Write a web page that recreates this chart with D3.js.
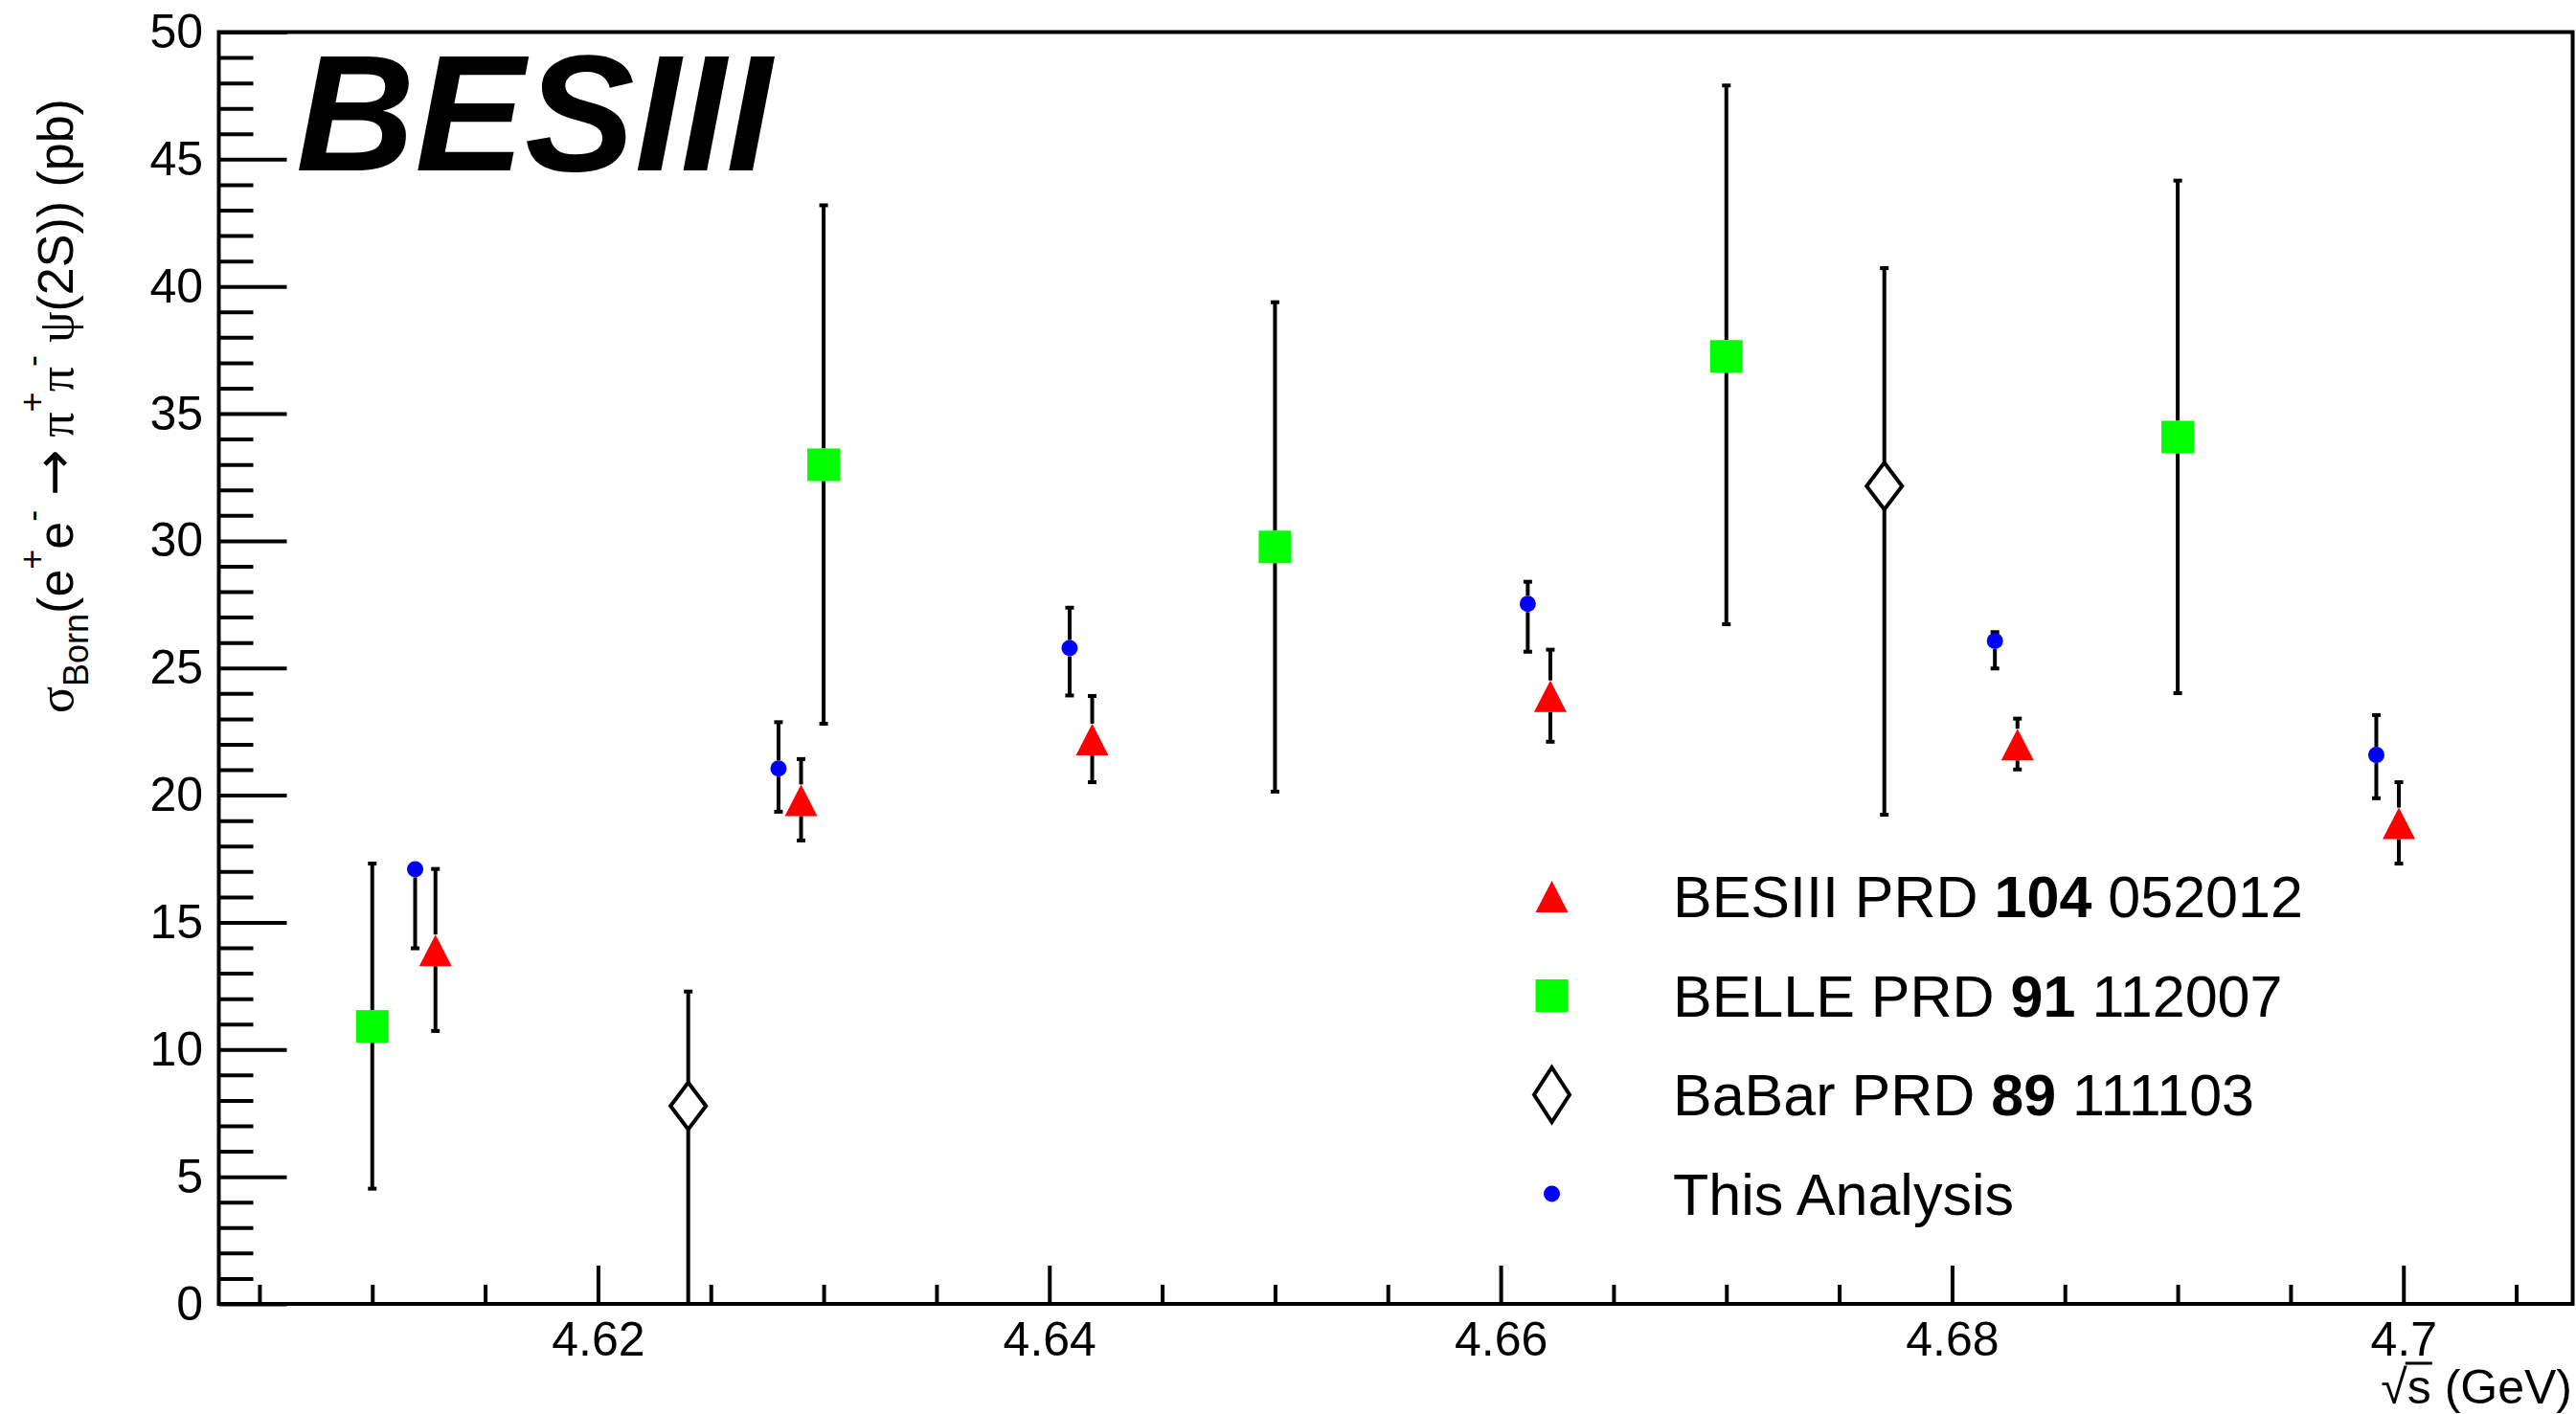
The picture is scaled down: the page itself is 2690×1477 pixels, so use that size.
<!DOCTYPE html>
<html>
<head>
<meta charset="utf-8">
<script src="https://cdn.jsdelivr.net/npm/d3@7"></script>
<style>
html,body{margin:0;padding:0;background:#fff;}
svg{display:block;}
text{font-family:"Liberation Sans",Arial,Helvetica,sans-serif;fill:#000;}
</style>
</head>
<body>
<script>
// ---------------- data ----------------
// This Analysis (blue dots)
const thisE     = [4.6119, 4.6280, 4.6409, 4.6612, 4.6819, 4.6988];
const thisVal   = [17.09, 21.05, 25.78, 27.52, 26.06, 21.58];
const thisLow   = [13.98, 19.35, 23.92, 25.64, 24.98, 19.88];
const thisHigh  = [17.20, 22.87, 27.37, 28.39, 26.41, 23.15];
// BESIII PRD 104 052012 (red triangles)
const besE      = [4.6128, 4.6290, 4.6419, 4.6622, 4.6829, 4.6998];
const besVal    = [13.90, 19.80, 22.19, 23.89, 21.99, 18.89];
const besLow    = [10.73, 18.22, 20.51, 22.10, 21.01, 17.31];
const besHigh   = [17.10, 21.42, 23.90, 25.72, 23.01, 20.51];
// BELLE PRD 91 112007 (green squares)
const belleE    = [4.61, 4.63, 4.65, 4.67, 4.69];
const belleVal  = [10.91, 32.99, 29.76, 37.25, 34.08];
const belleLow  = [4.53, 22.81, 20.14, 26.72, 24.01];
const belleHigh = [17.31, 43.19, 39.38, 47.90, 44.16];
// BaBar PRD 89 111103 (open diamonds)
const babarE    = [4.624, 4.677];
const babarVal  = [7.78, 32.15];
const babarLow  = [0.0, 19.23];
const babarHigh = [12.28, 40.72];

const xTickValues = [4.62, 4.64, 4.66, 4.68, 4.70];
const xTickLabels = ["4.62", "4.64", "4.66", "4.68", "4.7"];
const yTickValues = [0, 5, 10, 15, 20, 25, 30, 35, 40, 45, 50];
const yTickLabels = ["0", "5", "10", "15", "20", "25", "30", "35", "40", "45", "50"];

const legendLabels = [
  {pre: "BESIII PRD ", bold: "104", post: " 052012", kind: "tri"},
  {pre: "BELLE PRD ", bold: "91", post: " 112007", kind: "sq"},
  {pre: "BaBar PRD ", bold: "89", post: " 111103", kind: "dia"},
  {pre: "This Analysis", bold: "", post: "", kind: "dot"}
];

// ---------------- layout ----------------
const W = 2690, H = 1477;
const L = 228.5, R = 2686.5, T = 33.5, B = 1362;
const svg = d3.select("body").append("svg").attr("width", W).attr("height", H);

const x = d3.scaleLinear().domain([4.6032, 4.7075]).range([L, R]);
const y = d3.scaleLinear().domain([0, 50]).range([B, T]);

// minor ticks
const xMinor = d3.range(4.605, 4.7075, 0.005).filter(v => Math.abs(Math.round(v*50) - v*50) > 1e-6);
const yMinor = d3.range(0, 50.001, 1).filter(v => v % 5 !== 0);

const gx = svg.append("g").attr("transform", `translate(0,${B})`);
gx.call(d3.axisBottom(x).tickValues(xMinor).tickSize(-20).tickFormat(""));
gx.selectAll(".tick line").attr("stroke-width", 4);
const gx2 = svg.append("g").attr("transform", `translate(0,${B})`);
gx2.call(d3.axisBottom(x).tickValues(xTickValues).tickSize(-40).tickPadding(18.5)
  .tickFormat((d,i) => xTickLabels[i]));
gx2.selectAll(".tick line").attr("stroke-width", 4);
gx2.selectAll(".tick text").attr("font-size", 50).style("font-family", '"Liberation Sans",Arial,sans-serif');
svg.selectAll(".domain").remove();

const gy = svg.append("g").attr("transform", `translate(${L},0)`);
gy.call(d3.axisLeft(y).tickValues(yMinor).tickSize(-36).tickFormat(""));
gy.selectAll(".tick line").attr("stroke-width", 4);
const gy2 = svg.append("g").attr("transform", `translate(${L},0)`);
gy2.call(d3.axisLeft(y).tickValues(yTickValues).tickSize(-71).tickPadding(16.5)
  .tickFormat((d,i) => yTickLabels[i]));
gy2.selectAll(".tick line").attr("stroke-width", 4);
gy2.selectAll(".tick text").attr("font-size", 50).style("font-family", '"Liberation Sans",Arial,sans-serif');
svg.selectAll(".domain").remove();

// frame
svg.append("rect").attr("x", L).attr("y", T).attr("width", R - L).attr("height", B - T)
  .attr("fill", "none").attr("stroke", "#000").attr("stroke-width", 4);

// ---------------- error bars + markers ----------------
function series(E, V, Lo, Hi, halfH) {
  return E.map((e, i) => ({e, v: V[i], lo: Lo[i], hi: Hi[i], h: halfH}));
}
const sets = [
  {data: series(belleE, belleVal, belleLow, belleHigh, 17), kind: "sq"},
  {data: series(babarE, babarVal, babarLow, babarHigh, 24.5), kind: "dia"},
  {data: series(besE, besVal, besLow, besHigh, 16.5), kind: "tri"},
  {data: series(thisE, thisVal, thisLow, thisHigh, 8.5), kind: "dot"}
];

const gErr = svg.append("g");
sets.forEach(s => {
  s.data.forEach(d => {
    const cx = x(d.e), cy = y(d.v), yt = y(d.hi), yb = y(d.lo);
    if (cy - d.h > yt) gErr.append("line").attr("x1", cx).attr("x2", cx).attr("y1", cy - d.h).attr("y2", yt)
      .attr("stroke", "#000").attr("stroke-width", 4);
    if (cy + d.h < yb) gErr.append("line").attr("x1", cx).attr("x2", cx).attr("y1", cy + d.h).attr("y2", yb)
      .attr("stroke", "#000").attr("stroke-width", 4);
    [yt, yb].forEach(yy => gErr.append("rect").attr("x", cx - 4.5).attr("y", yy - 2).attr("width", 9).attr("height", 4).attr("fill", "#000"));
  });
});

function drawMarker(g, kind, cx, cy, big) {
  if (kind === "tri") {
    g.append("path").attr("d", `M${cx-17},${cy+16.5}L${cx+17},${cy+16.5}L${cx},${cy-16.5}Z`).attr("fill", "#ff0000");
  } else if (kind === "sq") {
    g.append("rect").attr("x", cx - 17).attr("y", cy - 17).attr("width", 34).attr("height", 34).attr("fill", "#00ff00");
  } else if (kind === "dia") {
    const hh = big ? 28.5 : 24.5;
    g.append("path").attr("d", `M${cx},${cy-hh}L${cx+18.5},${cy}L${cx},${cy+hh}L${cx-18.5},${cy}Z`)
      .attr("fill", "#fff").attr("stroke", "#000").attr("stroke-width", 4);
  } else {
    g.append("circle").attr("cx", cx).attr("cy", cy).attr("r", 8.5).attr("fill", "#0000ff");
  }
}
const gM = svg.append("g");
sets.forEach(s => s.data.forEach(d => drawMarker(gM, s.kind, x(d.e), y(d.v), false)));

// ---------------- legend ----------------
const legX = 1620.5, legTextX = 1747, legBase0 = 958, legStep = 103.5;
legendLabels.forEach((lab, i) => {
  const base = legBase0 + i * legStep;
  drawMarker(svg, lab.kind, legX, base - 21.5, true);
  const t = svg.append("text").attr("x", legTextX).attr("y", base).attr("font-size", 61);
  t.append("tspan").text(lab.pre);
  if (lab.bold) t.append("tspan").attr("font-weight", "bold").text(lab.bold);
  if (lab.post) t.append("tspan").text(lab.post);
});

// ---------------- BESIII label ----------------
svg.append("text").attr("x", 309).attr("y", 178).attr("font-size", 172)
  .attr("font-weight", "bold").attr("font-style", "italic").text("BESIII");

// ---------------- axis titles ----------------
const fs = 52, sub = 36;
const yt = svg.append("text").attr("transform", "translate(76,745) rotate(-90)").attr("font-size", fs);
const greek = '"Liberation Serif","DejaVu Serif",serif';
yt.append("tspan").style("font-family", greek).text("σ");
yt.append("tspan").attr("font-size", sub).attr("dy", 16).text("Born");
yt.append("tspan").attr("dy", -16).text("(e");
yt.append("tspan").attr("font-size", sub).attr("dy", -30).text("+");
yt.append("tspan").attr("dy", 30).text("e");
yt.append("tspan").attr("font-size", sub).attr("dy", -30).text("-");
yt.append("tspan").attr("dy", 30).text(" ");
yt.append("tspan").style("font-family", '"DejaVu Sans",sans-serif').attr("font-size", 58).text("→");
yt.append("tspan").style("font-family", greek).text(" π");
yt.append("tspan").attr("font-size", sub).attr("dy", -30).text("+");
yt.append("tspan").attr("dy", 30).style("font-family", greek).text("π");
yt.append("tspan").attr("font-size", sub).attr("dy", -30).text("-");
yt.append("tspan").attr("dy", 30).style("font-family", greek).text(" ψ");
yt.append("tspan").text("(2S)) (pb)");

const xt = svg.append("text").attr("x", 2686).attr("y", 1466).attr("font-size", 50)
  .attr("text-anchor", "end").text("√s (GeV)");
const n = xt.node();
const s0 = n.getStartPositionOfChar(1), s1 = n.getEndPositionOfChar(1);
svg.append("line").attr("x1", s0.x - 2).attr("x2", s1.x + 1).attr("y1", 1424).attr("y2", 1424)
  .attr("stroke", "#000").attr("stroke-width", 3);
</script>
</body>
</html>
